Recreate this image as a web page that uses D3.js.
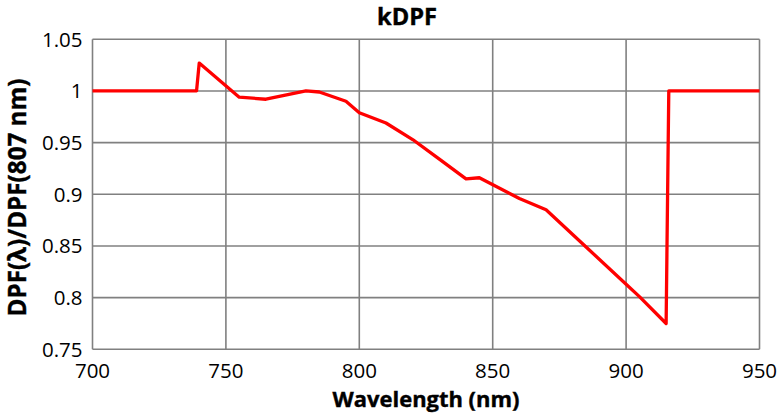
<!DOCTYPE html>
<html><head><meta charset="utf-8">
<script src="https://cdn.jsdelivr.net/npm/d3@7"></script>
<style>body{margin:0;background:#fff}svg{display:block}text{font-family:"Open Sans",sans-serif;fill:#000}</style>
</head><body>
<script>
const wavelengths = [700, 739, 740, 755, 765, 780, 785, 795, 800, 810, 820, 830, 840, 845, 860, 870, 885, 900, 905, 915, 916, 950];
const kdpf =        [1.0, 1.0, 1.027, 0.994, 0.992, 1.0, 0.999, 0.990, 0.979, 0.969, 0.953, 0.934, 0.915, 0.916, 0.896, 0.885, 0.849, 0.813, 0.801, 0.775, 1.0, 1.0];
const xTicks = [700, 750, 800, 850, 900, 950];
const yTicks = [0.75, 0.8, 0.85, 0.9, 0.95, 1, 1.05];
const yTickLabels = ["0.75", "0.8", "0.85", "0.9", "0.95", "1", "1.05"];

const W = 780, H = 416;
const m = {l: 92.5, r: 20.5, t: 39.3, b: 66.7};
const svg = d3.select("body").append("svg").attr("width", W).attr("height", H);
const x = d3.scaleLinear().domain([700, 950]).range([m.l, W - m.r]);
const y = d3.scaleLinear().domain([0.75, 1.05]).range([H - m.b, m.t]);

const g = svg.append("g");
g.selectAll("line.v").data(xTicks).join("line")
  .attr("x1", d => x(d)).attr("x2", d => x(d)).attr("y1", y(0.75)).attr("y2", y(1.05))
  .attr("stroke", "#808080").attr("stroke-width", 1.6);
g.selectAll("line.h").data(yTicks).join("line")
  .attr("y1", d => y(d)).attr("y2", d => y(d)).attr("x1", x(700)).attr("x2", x(950))
  .attr("stroke", "#808080").attr("stroke-width", 1.6);

svg.append("g").selectAll("text").data(yTicks).join("text")
  .attr("x", x(700) - 10).attr("y", d => y(d)).attr("dy", "0.36em")
  .attr("text-anchor", "end").attr("font-size", 20.5)
  .text((d, i) => yTickLabels[i]);
svg.append("g").selectAll("text").data(xTicks).join("text")
  .attr("x", d => x(d)).attr("y", 378).attr("text-anchor", "middle").attr("font-size", 20.5)
  .text(d => d);

const line = d3.line().x(d => x(d[0])).y(d => y(d[1]));
svg.append("path").datum(wavelengths.map((w, i) => [w, kdpf[i]]))
  .attr("d", line).attr("fill", "none").attr("stroke", "#ff0000")
  .attr("stroke-width", 3.3).attr("stroke-linejoin", "round");

function fitText(sel, target) {
  const n = sel.node();
  const len = n.getComputedTextLength();
  const fs = 20 * target / len;
  sel.attr("font-size", fs.toFixed(2));
}
const title = svg.append("text").attr("x", 407).attr("y", 25).attr("text-anchor", "middle")
  .attr("font-size", 20).attr("font-weight", "bold").attr("stroke", "#000").attr("stroke-width", 0.4).text("kDPF");
fitText(title, 60);
const xl = svg.append("text").attr("x", 426).attr("y", 407).attr("text-anchor", "middle")
  .attr("font-size", 20).attr("font-weight", "bold").attr("stroke", "#000").attr("stroke-width", 0.4).text("Wavelength (nm)");
fitText(xl, 187);
const yl = svg.append("text").attr("transform", "translate(26,197.5) rotate(-90)").attr("text-anchor", "middle")
  .attr("font-size", 20).attr("font-weight", "bold").attr("stroke", "#000").attr("stroke-width", 0.4).text("DPF(λ)/DPF(807 nm)");
fitText(yl, 238);
</script>
</body></html>
